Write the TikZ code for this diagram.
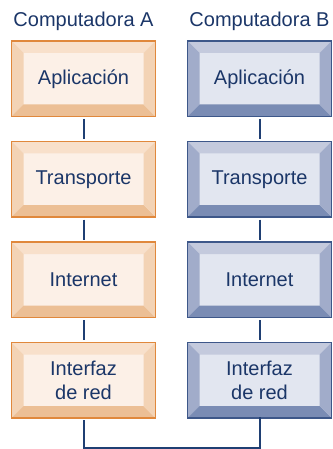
\documentclass[tikz,border=0pt]{standalone}
\usepackage{fontspec}
\setmainfont{Liberation Sans}
\usetikzlibrary{positioning}
\usetikzlibrary{calc}
\definecolor{ink}{HTML}{1B3668}
\definecolor{wire}{HTML}{1F3F73}
% palette computadora A
\definecolor{aedge}{HTML}{E0883C}
\definecolor{ainner}{HTML}{FCF0E7}
\definecolor{atop}{HTML}{F8E0CB}
\definecolor{aside}{HTML}{F3D3B5}
\definecolor{abottom}{HTML}{ECBF95}
% palette computadora B
\definecolor{bedge}{HTML}{3D5789}
\definecolor{binner}{HTML}{E2E6F0}
\definecolor{btop}{HTML}{C4CADD}
\definecolor{bside}{HTML}{A1ACCA}
\definecolor{bbottom}{HTML}{7A8CB4}
\newcommand{\bv}{12pt}

\tikzset{
    bevel/.style n args={5}{
        draw=#1, fill=#2, line width=1.1pt, outer sep=0pt,
        minimum width=144pt, minimum height=75.5pt, inner sep=0pt,
        align=center, text=ink, font=\fontsize{20}{24}\selectfont,
        path picture={
            \path (path picture bounding box.north west) coordinate (p1)
                  (path picture bounding box.north east) coordinate (p2)
                  (path picture bounding box.south east) coordinate (p3)
                  (path picture bounding box.south west) coordinate (p4);
            \fill[#3] (p1) -- (p2) -- ($(p2)+(-\bv,-\bv)$) -- ($(p1)+(\bv,-\bv)$) -- cycle;
            \fill[#4] (p1) -- ($(p1)+(\bv,-\bv)$) -- ($(p4)+(\bv,\bv)$) -- (p4) -- cycle;
            \fill[#5] (p4) -- ($(p4)+(\bv,\bv)$) -- ($(p3)+(-\bv,\bv)$) -- (p3) -- cycle;
            \fill[#4] (p3) -- ($(p3)+(-\bv,\bv)$) -- ($(p2)+(-\bv,-\bv)$) -- (p2) -- cycle;
        }
    },
    layerA/.style={bevel={aedge}{ainner}{atop}{aside}{abottom}},
    layerB/.style={bevel={bedge}{binner}{btop}{bside}{bbottom}},
    title/.style={text=ink, font=\fontsize{20}{24}\selectfont, anchor=base, inner sep=0pt},
    link/.style={draw=wire, line width=2pt, shorten <=2.5pt, shorten >=2.5pt}
}

\begin{document}
\begin{tikzpicture}
    \useasboundingbox (0,0) rectangle (332pt,-449pt);

    \node [layerA] (appA) at (83.5pt,-78.75pt) {Aplicación};
    \node [layerA, below=25pt of appA] (traA) {Transporte};
    \node [layerA, below=25pt of traA] (intA) {Internet};
    \node [layerA, below=25pt of intA] (redA) {Interfaz\\de red};

    \node [layerB, right=32pt of appA] (appB) {Aplicación};
    \node [layerB, below=25pt of appB] (traB) {Transporte};
    \node [layerB, below=25pt of traB] (intB) {Internet};
    \node [layerB, below=25pt of intB] (redB) {Interfaz\\de red};

    \node [title] (titleA) at ($(appA.north)+(0,14pt)$) {Computadora A};
    \node [title] (titleB) at ($(appB.north)+(0,14pt)$) {Computadora B};

    % pila A
    \draw [link] (appA) -- (traA);
    \draw [link] (traA) -- (intA);
    \draw [link] (intA) -- (redA);
    % pila B
    \draw [link] (appB) -- (traB);
    \draw [link] (traB) -- (intB);
    \draw [link] (intB) -- (redB);
    % red fisica
    \coordinate (busA) at ($(redA.south)+(0,-29.5pt)$);
    \draw [link, shorten >=0pt, line cap=rect] (redA.south) -- (busA) -| (redB.south);
\end{tikzpicture}
\end{document}
